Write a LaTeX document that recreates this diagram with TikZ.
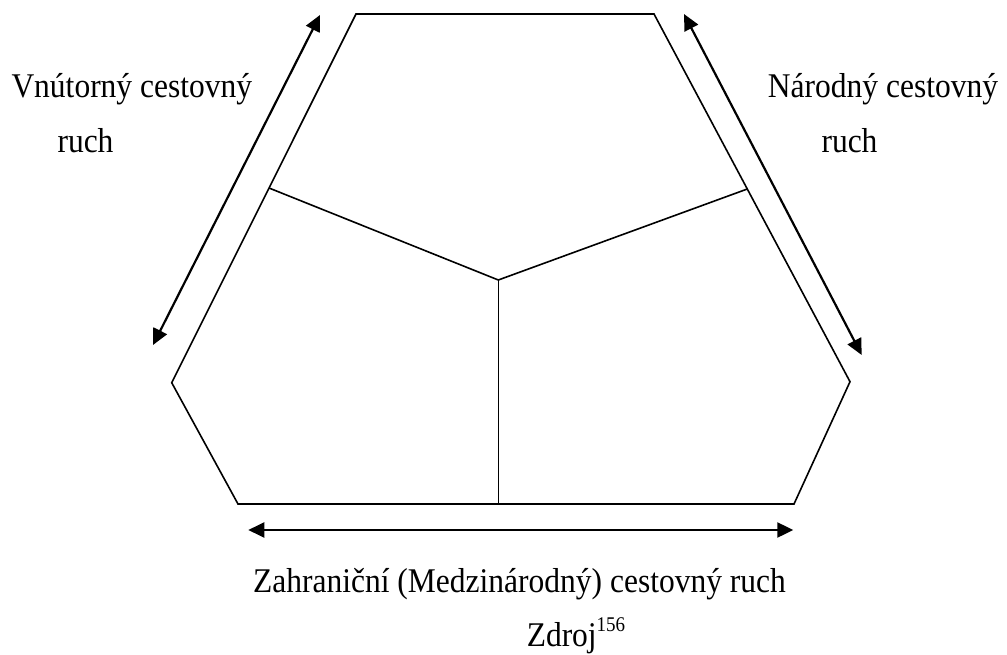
\documentclass[tikz,border=0pt]{standalone}
\usepackage{fontspec}
\usepackage{graphicx}
\setmainfont{Liberation Serif}
\usetikzlibrary{arrows.meta}
\newcommand{\tallbox}[1]{\scalebox{1}[1.1]{#1}}
\begin{document}
\begin{tikzpicture}[x=1pt,y=-1pt,
  edge/.style={line width=1.6pt, line join=miter},
  dbl/.style={line width=2.2pt, {Triangle[length=16pt,width=15pt]}-{Triangle[length=16pt,width=15pt]}},
  lbl/.style={inner sep=0pt, anchor=base, font=\fontsize{31.5}{37}\selectfont}]
\useasboundingbox (0,0) rectangle (1007,655);
% hexagon corners
\coordinate (tl) at (356,14);
\coordinate (tr) at (654,14);
\coordinate (rm) at (850,381.7);
\coordinate (br) at (794,504);
\coordinate (bl) at (238,504);
\coordinate (lm) at (171.7,382.7);
% inner division
\coordinate (c)  at (498.3,280);
\coordinate (jl) at (269,188);
\coordinate (jr) at (747.3,189);
\coordinate (cb) at (498.3,504);
\draw[edge] (tl) -- (tr) -- (rm) -- (br) -- (bl) -- (lm) -- cycle;
\draw[edge] (jl) -- (c) -- (jr);
\draw[edge] (c) -- (cb);
% arrows
\coordinate (la1) at (320,15);
\coordinate (la2) at (153,345);
\coordinate (ra1) at (684,14);
\coordinate (ra2) at (861.7,355);
\coordinate (ba1) at (248.3,530);
\coordinate (ba2) at (793.3,530);
\draw[dbl] (la1) -- (la2);
\draw[dbl] (ra1) -- (ra2);
\draw[dbl] (ba1) -- (ba2);
% labels
\node[lbl] (l1) at (131.8,98) {\tallbox{Vnútorný cestovný}};
\node[lbl] (l2) at (85.5,153) {\tallbox{ruch}};
\node[lbl] (r1) at (883,98) {\tallbox{Národný cestovný}};
\node[lbl] (r2) at (849.5,153) {\tallbox{ruch}};
\node[lbl] (b1) at (519.5,592) {\tallbox{Zahraniční (Medzinárodný) cestovný ruch}};
\node[lbl] (b2) at (576,646) {\tallbox{Zdroj\raisebox{13pt}{\fontsize{19}{19}\selectfont 156}}};
\end{tikzpicture}
\end{document}
